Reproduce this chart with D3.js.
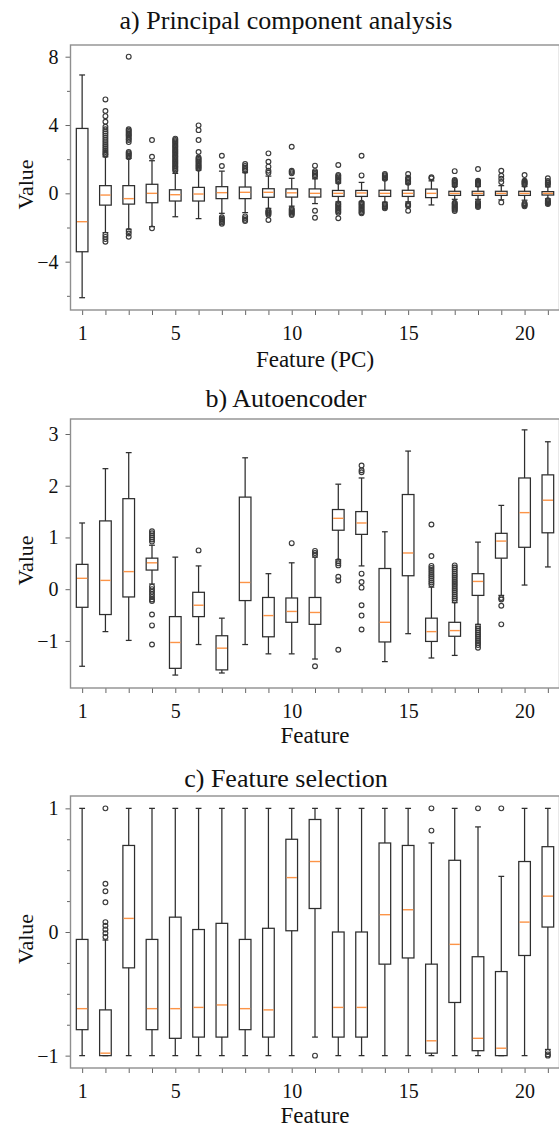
<!DOCTYPE html>
<html>
<head>
<meta charset="utf-8">
<script src="https://cdn.jsdelivr.net/npm/d3@7/dist/d3.min.js"></script>
<style>
	body{margin:0;background:#fff;}
	svg{display:block;}
	text{font-family:"Liberation Serif","Times New Roman",serif;fill:#111;}
</style>
</head>
<body>
<div id="container"></div>
<script>

var features = [1,2,3,4,5,6,7,8,9,10,11,12,13,14,15,16,17,18,19,20,21];
var featureTickLabels = [1,5,10,15,20];

//a) principal component analysis
var pcaLow    = [-6.11,-2.3,-2.1,-1.95,-1.37,-1.48,-1.17,-1.13,-0.88,-0.75,-0.6,-0.5,-0.5,-0.52,-0.5,-0.68,-0.35,-0.35,-0.38,-0.4,-0.32];
var pcaQ1     = [-3.42,-0.69,-0.63,-0.55,-0.45,-0.45,-0.31,-0.31,-0.23,-0.22,-0.22,-0.18,-0.18,-0.18,-0.18,-0.25,-0.12,-0.12,-0.12,-0.12,-0.1];
var pcaMedian = [-1.66,-0.1,-0.31,0.0,-0.08,-0.04,0.04,0.06,0.06,0.03,0.0,0.0,0.02,0.0,0.0,0.0,0.0,0.0,0.0,0.0,0.0];
var pcaQ3     = [3.8,0.45,0.45,0.53,0.21,0.35,0.39,0.37,0.27,0.26,0.26,0.17,0.17,0.18,0.18,0.25,0.12,0.12,0.12,0.12,0.1];
var pcaHigh   = [6.93,2.14,2.05,1.91,1.17,1.36,1.3,1.21,1.01,0.88,0.85,0.6,0.64,0.8,0.55,0.73,0.4,0.4,0.45,0.4,0.38];
var pcaOutliers = [
	[],
	[5.5,4.82,4.52,4.19,3.9,3.75,3.62,3.5,3.38,3.25,3.12,3.0,2.88,2.76,2.64,2.52,2.42,2.32,2.24,-2.42,-2.55,-2.68,-2.83],
	[8.0,3.75,3.68,3.6,3.52,3.45,3.38,3.3,3.2,3.12,3.0,2.42,2.35,2.28,2.2,2.12,-2.2,-2.35,-2.54],
	[3.12,2.14,-2.05],
	[3.2,3.12,3.05,2.98,2.9,2.82,2.75,2.68,2.6,2.52,2.45,2.38,2.3,2.22,2.15,2.08,2.0,1.92,1.85,1.78,1.7,1.62,1.55,1.48,1.4,1.32],
	[3.98,3.7,3.12,2.42,2.1,2.02,1.95,1.88,1.8,1.72,1.65,1.58,1.5,1.44],
	[2.2,1.6,-1.4,-1.48,-1.55,-1.62,-1.7,-1.78],
	[1.72,1.6,1.5,1.4,1.32,-1.35,-1.45,-1.55,-1.62],
	[2.34,1.85,1.56,1.32,1.2,-1.0,-1.06,-1.12,-1.18,-1.25,-1.56],
	[2.73,1.32,1.25,1.17,-0.9,-0.98,-1.05,-1.12,-1.2,-1.27],
	[1.62,1.3,1.22,1.14,1.06,0.98,-1.02,-1.43],
	[1.66,1.07,1.0,0.92,0.84,0.76,0.68,-0.59,-0.66,-0.74,-0.82,-0.9,-0.98,-1.06,-1.14,-1.46],
	[2.2,1.05,-0.55,-0.62,-0.7,-0.78,-0.86,-0.94,-1.02,-1.1,-1.17],
	[1.13,1.06,0.99,0.92,0.86,-0.62,-0.68,-0.75,-0.82,-0.88],
	[1.13,0.92,0.85,0.78,0.7,0.62,-0.62,-0.68,-0.74,-1.02],
	[0.94,0.88],
	[1.3,0.78,0.72,0.66,0.6,0.54,0.48,-0.55,-0.6,-0.66,-0.72,-0.78,-0.84,-0.9,-0.96,-1.04],
	[1.42,0.74,0.68,0.62,0.56,0.5,-0.5,-0.56,-0.62,-0.68,-0.74,-0.8],
	[1.32,1.03,0.85,0.66,-0.53],
	[1.07,0.74,0.68,0.62,0.56,0.5,-0.58,-0.64,-0.7,-0.76],
	[0.88,0.72,0.65,0.58,0.5,-0.4,-0.46,-0.52,-0.58,-0.62]
];
var pcaYTicks = [-4,0,4,8];
var pcaYMinor = [-6,-2,2,6];

//b) autoencoder
var aeLow    = [-1.49,-0.82,-0.99,0.1,-1.66,-1.07,-1.62,-1.07,-1.25,-1.25,-1.35,0.57,0.45,-1.4,-0.86,-1.33,-1.28,-0.68,-0.12,0.08,0.43];
var aeQ1     = [-0.35,-0.49,-0.15,0.37,-1.53,-0.53,-1.56,-0.22,-0.92,-0.64,-0.68,1.14,1.06,-1.02,0.26,-1.01,-0.91,-0.12,0.6,0.81,1.09];
var aeMedian = [0.21,0.17,0.34,0.51,-1.03,-0.31,-1.14,0.13,-0.51,-0.43,-0.45,1.37,1.28,-0.64,0.7,-0.82,-0.8,0.15,0.93,1.48,1.72];
var aeQ3     = [0.48,1.32,1.75,0.6,-0.53,-0.06,-0.9,1.78,-0.16,-0.17,-0.16,1.54,1.5,0.4,1.83,-0.56,-0.64,0.3,1.08,2.15,2.21];
var aeHigh   = [1.28,2.33,2.64,0.85,0.62,0.45,-0.56,2.54,0.3,0.51,0.62,2.03,2.15,1.11,2.67,0.04,-0.26,0.91,1.62,3.08,2.85];
var aeOutliers = [
	[],[],[],
	[1.12,1.08,1.04,1.0,0.96,0.92,0.05,0.0,-0.05,-0.1,-0.15,-0.2,-0.23,-0.49,-0.7,-1.07],
	[],
	[0.75],
	[],[],[],
	[0.89],
	[0.74,0.7,0.66,-1.49],
	[0.54,0.5,0.46,0.24,0.17,-1.17],
	[2.39,2.3,2.26,0.3,0.14,0.03,-0.31,-0.51,-0.78],
	[],[],
	[1.25,0.64,0.45,0.41,0.37,0.33,0.29,0.25,0.21,0.17,0.13,0.09],
	[0.46,0.42,0.38,0.34,0.3,0.26,0.22,0.18,0.14,0.1,0.06,0.02,-0.02,-0.06,-0.1,-0.14,-0.18,-0.22],
	[-0.72,-0.76,-0.8,-0.84,-0.88,-0.92,-0.96,-1.0,-1.04,-1.08,-1.13],
	[-0.17,-0.2,-0.32,-0.68],
	[],[]
];
var aeYTicks = [-1,0,1,2,3];
var aeYMinor = [];

//c) feature selection
var fsLow    = [-1,-1,-1,-1,-1,-1,-1,-1,-1,-1,-0.85,-1,-1,-1,-1,-1,-1,-1,-1,-1,-0.95];
var fsQ1     = [-0.79,-1,-0.29,-0.79,-0.86,-0.85,-0.85,-0.79,-0.85,0.01,0.19,-0.85,-0.85,-0.26,-0.21,-0.98,-0.57,-0.96,-1,-0.19,0.04];
var fsMedian = [-0.62,-0.98,0.11,-0.62,-0.62,-0.61,-0.59,-0.62,-0.63,0.44,0.57,-0.61,-0.61,0.14,0.18,-0.88,-0.1,-0.86,-0.94,0.08,0.29];
var fsQ3     = [-0.06,-0.63,0.7,-0.06,0.12,0.02,0.07,-0.06,0.03,0.75,0.91,0.0,0.0,0.72,0.7,-0.26,0.58,-0.2,-0.32,0.57,0.69];
var fsHigh   = [1,-0.065,1,1,1,1,1,1,1,1,1,1,1,1,1,0.72,1,0.85,0.45,1,1];
var fsOutliers = [
	[],
	[1.0,0.39,0.33,0.24,0.08,0.05,0.02,-0.01,-0.04],
	[],[],[],[],[],[],[],[],
	[-1.0],
	[],[],[],[],
	[1.0,0.82],
	[],
	[1.0],
	[1.0],
	[],
	[-0.97,-0.99,-1.0]
];
var fsYTicks = [-1,0,1];
var fsYMinor = [-0.75,-0.5,-0.25,0.25,0.5,0.75];

var init = function(){

	return {

		w:559,
		h:1131,

		x0:70.5,
		x1:559.5,

		colors:{
			'box':'#2e2e2e',
			'frame':'#8f8f8f',
			'median':'#fc9447',
			'flier':'#3a3a3a'
		},

		panels:[
			{title:'a) Principal component analysis', xlabel:'Feature (PC)', top:45, bottom:310, ydom:[-6.83,8.685],
				titleY:29, xlabelY:367, low:pcaLow, q1:pcaQ1, med:pcaMedian, q3:pcaQ3, high:pcaHigh, out:pcaOutliers, ticks:pcaYTicks, minor:pcaYMinor},
			{title:'b) Autoencoder', xlabel:'Feature', top:419, bottom:688, ydom:[-1.91,3.29],
				titleY:407, xlabelY:743, low:aeLow, q1:aeQ1, med:aeMedian, q3:aeQ3, high:aeHigh, out:aeOutliers, ticks:aeYTicks, minor:aeYMinor},
			{title:'c) Feature selection', xlabel:'Feature', top:796, bottom:1068, ydom:[-1.1,1.1],
				titleY:787, xlabelY:1123, low:fsLow, q1:fsQ1, med:fsMedian, q3:fsQ3, high:fsHigh, out:fsOutliers, ticks:fsYTicks, minor:fsYMinor}
		],

		generate:function(){
			self.svg = d3.select('#container').append('svg')
				.attr('width',self.w)
				.attr('height',self.h)
				.style('background','#fff');

			self.x = d3.scaleLinear()
				.domain([0.5,21.5])
				.range([self.x0,self.x1]);

			self.panels.forEach(function(p){
				self.drawPanel(p);
			});
		},
		drawPanel:function(p){
			var x = self.x,
				step = x(2) - x(1),
				boxW = step*0.5,
				capW = step*0.25;
			var y = d3.scaleLinear()
				.domain(p.ydom)
				.range([p.bottom,p.top]);

			var g = self.svg.append('g');

			//title
			g.append('text')
				.attr('x',286)
				.attr('y',p.titleY)
				.attr('text-anchor','middle')
				.style('font-size','26px')
				.text(p.title);

			//y ticks, major then minor
			var yAxis = g.append('g')
				.attr('transform','translate(' +self.x0 +',0)')
				.call(d3.axisLeft(y).tickValues(p.ticks).tickSize(5).tickPadding(7).tickFormat(d3.format('d')));
			g.append('g')
				.attr('transform','translate(' +self.x0 +',0)')
				.call(d3.axisLeft(y).tickValues(p.minor).tickSize(3.5).tickFormat(''))
				.select('.domain').remove();
			yAxis.select('.domain').remove();
			yAxis.selectAll('text')
				.style('font-size','20px')
				.style('font-family','"Liberation Serif",serif');

			//x ticks
			var xAxis = g.append('g')
				.attr('transform','translate(0,' +p.bottom +')')
				.call(d3.axisBottom(x).tickValues(features).tickSize(5)
					.tickFormat(function(d){ return featureTickLabels.indexOf(d) > -1 ? d : ''; }));
			xAxis.select('.domain').remove();
			xAxis.selectAll('text')
				.attr('y',30)
				.attr('dy',null)
				.style('font-size','20px')
				.style('font-family','"Liberation Serif",serif');

			g.selectAll('.tick line')
				.attr('stroke','#666');

			//axis labels
			g.append('text')
				.attr('x',315)
				.attr('y',p.xlabelY)
				.attr('text-anchor','middle')
				.style('font-size','23px')
				.text(p.xlabel);
			g.append('text')
				.attr('transform','translate(33,' +((p.top+p.bottom)/2 +7) +')rotate(-90)')
				.attr('text-anchor','middle')
				.style('font-size','22px')
				.text('Value');

			//boxes
			var boxes = g.selectAll('g.box')
				.data(features)
				.enter().append('g')
				.classed('box',true);

			boxes.append('line')
				.attr('x1',function(d){ return x(d); })
				.attr('x2',function(d){ return x(d); })
				.attr('y1',function(d,i){ return y(p.low[i]); })
				.attr('y2',function(d,i){ return y(p.q1[i]); });
			boxes.append('line')
				.attr('x1',function(d){ return x(d); })
				.attr('x2',function(d){ return x(d); })
				.attr('y1',function(d,i){ return y(p.q3[i]); })
				.attr('y2',function(d,i){ return y(p.high[i]); });
			boxes.append('line')
				.attr('x1',function(d){ return x(d) -capW/2; })
				.attr('x2',function(d){ return x(d) +capW/2; })
				.attr('y1',function(d,i){ return y(p.low[i]); })
				.attr('y2',function(d,i){ return y(p.low[i]); });
			boxes.append('line')
				.attr('x1',function(d){ return x(d) -capW/2; })
				.attr('x2',function(d){ return x(d) +capW/2; })
				.attr('y1',function(d,i){ return y(p.high[i]); })
				.attr('y2',function(d,i){ return y(p.high[i]); });
			boxes.selectAll('line')
				.style('stroke',self.colors.box)
				.style('stroke-width',1.25);

			boxes.append('rect')
				.attr('x',function(d){ return x(d) -boxW/2; })
				.attr('y',function(d,i){ return y(p.q3[i]); })
				.attr('width',boxW)
				.attr('height',function(d,i){ return Math.max(0.5,y(p.q1[i]) -y(p.q3[i])); })
				.style('fill','none')
				.style('stroke',self.colors.box)
				.style('stroke-width',1.25);

			boxes.append('line')
				.attr('x1',function(d){ return x(d) -boxW/2 +0.7; })
				.attr('x2',function(d){ return x(d) +boxW/2 -0.7; })
				.attr('y1',function(d,i){ return y(p.med[i]); })
				.attr('y2',function(d,i){ return y(p.med[i]); })
				.style('stroke',self.colors.median)
				.style('stroke-width',1.4);

			boxes.selectAll('circle')
				.data(function(d,i){ return p.out[i].map(function(v){ return {f:d,v:v}; }); })
				.enter().append('circle')
				.attr('cx',function(o){ return x(o.f); })
				.attr('cy',function(o){ return y(o.v); })
				.attr('r',2.4)
				.style('fill','none')
				.style('stroke',self.colors.flier)
				.style('stroke-width',1.15);

			//frame
			g.append('rect')
				.attr('x',self.x0)
				.attr('y',p.top)
				.attr('width',self.x1 -self.x0)
				.attr('height',p.bottom -p.top)
				.style('fill','none')
				.style('stroke',self.colors.frame)
				.style('stroke-width',1.4);
		}
	}
}

var self = init();
self.generate();
</script>
</body>
</html>
